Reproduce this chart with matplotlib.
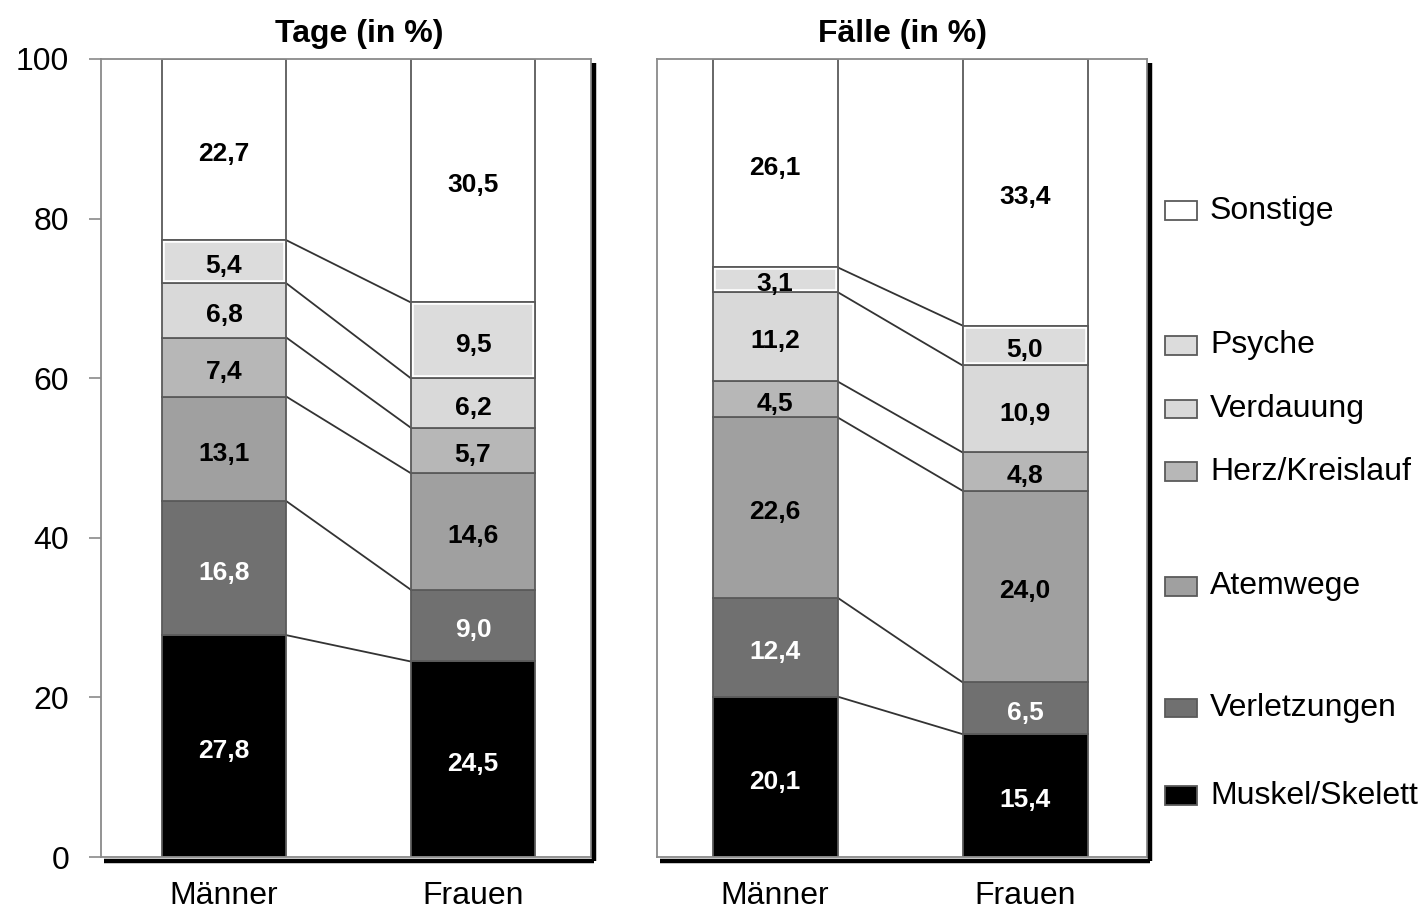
import matplotlib
matplotlib.use("Agg")
import matplotlib.pyplot as plt
import matplotlib.transforms as mtransforms
from matplotlib.lines import Line2D
from matplotlib.patches import Rectangle
import numpy as np

plt.rcParams["font.family"] = ["Liberation Sans", "DejaVu Sans"]

# ── Daten ───────────────────────────────────────────────────────────────────
categories = ["Muskel/Skelett", "Verletzungen", "Atemwege", "Herz/Kreislauf",
              "Verdauung", "Psyche", "Sonstige"]
groups = ["Männer", "Frauen"]
tage_maenner = [27.8, 16.8, 13.1, 7.4, 6.8, 5.4, 22.7]
tage_frauen = [24.5, 9.0, 14.6, 5.7, 6.2, 9.5, 30.5]
faelle_maenner = [20.1, 12.4, 22.6, 4.5, 11.2, 3.1, 26.1]
faelle_frauen = [15.4, 6.5, 24.0, 4.8, 10.9, 5.0, 33.4]

# ── Stil ────────────────────────────────────────────────────────────────────
FILLS = ["#000000", "#707070", "#a0a0a0", "#b7b7b7", "#d9d9d9", "#dcdcdc", "#ffffff"]
TXT = ["white", "white", "black", "black", "black", "black", "black"]
EDGE = "#5a5a5a"
FRAME = "#8a8a8a"
W = 0.5
FS = 23


def fmt(v):
    return f"{v:.1f}".replace(".", ",")


def draw_panel(ax, title, maenner, frauen, xlim, title_x=0.5):
    x = np.arange(len(groups))
    tops = []
    for j, vals in enumerate([maenner, frauen]):
        cum = np.cumsum(vals)
        bottoms = cum - np.array(vals)
        tops.append(cum)
        for i, (v, b) in enumerate(zip(vals, bottoms)):
            bar = ax.bar(x[j], v, bottom=b, width=W, color=FILLS[i],
                         edgecolor=EDGE, linewidth=1.3, zorder=2)[0]
            if categories[i] == "Psyche":
                inner = ax.bar(x[j], v, bottom=b, width=W, facecolor="none",
                               edgecolor="white", linewidth=4, zorder=3)[0]
                inner.set_clip_path(bar)
                ax.bar(x[j], v, bottom=b, width=W, facecolor="none",
                       edgecolor=EDGE, linewidth=1.3, zorder=4)
            ax.text(x[j], b + v / 2 - 0.6, fmt(v), ha="center", va="center",
                    fontsize=19, fontweight="bold", color=TXT[i], zorder=5)

    # Verbindungslinien zwischen den Segmentgrenzen
    for k in range(len(categories) - 1):
        ax.plot([x[0] + W / 2, x[1] - W / 2], [tops[0][k], tops[1][k]],
                color="#333333", linewidth=1.3, zorder=1)

    ax.set_xlim(*xlim)
    ax.set_ylim(0, 100)
    ax.set_xticks(x)
    ax.set_xticklabels(groups)
    ax.tick_params(axis="x", length=0, pad=17, labelsize=FS)
    ax.set_title(title, fontsize=FS, fontweight="bold", pad=12, x=title_x)
    for s in ax.spines.values():
        s.set_color(FRAME)
        s.set_linewidth(1.3)

    # Schlagschatten rechts und unten
    fig = ax.figure
    off = mtransforms.ScaledTranslation(3 / 100, -4 / 100, fig.dpi_scale_trans)
    tr = ax.transAxes + off
    ax.add_line(Line2D([1, 1], [1, 0], transform=tr, color="black",
                       linewidth=3.2, clip_on=False, solid_capstyle="butt", zorder=6))
    ax.add_line(Line2D([0, 1], [0, 0], transform=tr, color="black",
                       linewidth=3.2, clip_on=False, solid_capstyle="butt", zorder=6))
    return tops


fig = plt.figure(figsize=(14.21, 9.13), dpi=100)
ax1 = fig.add_axes([101 / 1421, 1 - 857 / 913, 490 / 1421, 798 / 913])
ax2 = fig.add_axes([657 / 1421, 1 - 857 / 913, 490 / 1421, 798 / 913])

draw_panel(ax1, "Tage (in %)", tage_maenner, tage_frauen, (-0.494, 1.474), title_x=0.527)
tops2 = draw_panel(ax2, "Fälle (in %)", faelle_maenner, faelle_frauen, (-0.472, 1.488))

ax1.set_yticks(np.arange(0, 101, 20))
ax1.tick_params(axis="y", length=9, width=1.2, color=FRAME, pad=14, labelsize=FS)
ax2.tick_params(axis="y", left=False, labelleft=False)

# Legende auf Höhe der Segmente des rechten Frauen-Balkens
centers = tops2[1] - np.array(faelle_frauen) / 2
for i, cat in enumerate(categories):
    yc = min(centers[i], 81)
    r = Rectangle((1.56, yc - 1.15), 0.128, 2.3, facecolor=FILLS[i],
                  edgecolor=EDGE, linewidth=1.3, clip_on=False, zorder=5)
    ax2.add_patch(r)
    ax2.text(1.74, yc, cat, ha="left", va="center", fontsize=FS,
             clip_on=False)

fig.savefig("out.png", dpi=100)
